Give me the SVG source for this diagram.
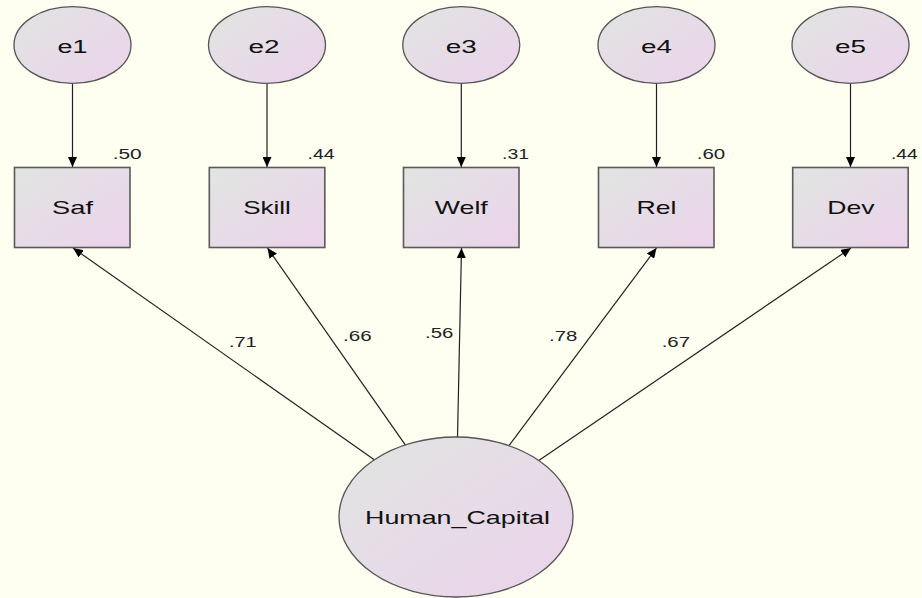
<svg xmlns="http://www.w3.org/2000/svg" width="922" height="598" viewBox="0 0 922 598">
<defs>
<linearGradient id="g" x1="0" y1="0" x2="1" y2="1">
<stop offset="0" stop-color="#e1e5e1"/>
<stop offset="1" stop-color="#ecd3ec"/>
</linearGradient>
<marker id="ah" viewBox="0 0 10 9" refX="10" refY="4.5" markerWidth="10" markerHeight="9" markerUnits="userSpaceOnUse" orient="auto">
<path d="M0,0 L10,4.5 L0,9 z" fill="#000"/>
</marker>
<style>
.ell{fill:url(#g);stroke:#555;stroke-width:1.3}
.box{fill:url(#g);stroke:#5a5a5a;stroke-width:1.6}
.lbl{font-family:"Liberation Sans",Arial,sans-serif;font-size:19px;fill:#111;text-anchor:middle}
.el{font-family:"Liberation Sans",Arial,sans-serif;font-size:18px;fill:#111;text-anchor:middle}
.num{font-family:"Liberation Sans",Arial,sans-serif;font-size:15px;fill:#222}
.con{stroke:#222;stroke-width:1.2;fill:none;marker-end:url(#ah)}
</style>
</defs>
<rect width="922" height="598" fill="#fefef1"/>
<g id="connectors">
<line class="con" x1="72.5" y1="83.5" x2="72.5" y2="167"/>
<line class="con" x1="267" y1="83.5" x2="267" y2="167"/>
<line class="con" x1="461.3" y1="83.5" x2="461.3" y2="167"/>
<line class="con" x1="656.5" y1="83.5" x2="656.5" y2="167"/>
<line class="con" x1="850.5" y1="83.5" x2="850.5" y2="167"/>
<line class="con" x1="374.3" y1="459.8" x2="73" y2="248"/>
<line class="con" x1="405.3" y1="444.9" x2="267.5" y2="248"/>
<line class="con" x1="457.5" y1="437" x2="461.5" y2="248"/>
<line class="con" x1="509" y1="445.7" x2="656.5" y2="248"/>
<line class="con" x1="538.8" y1="460.5" x2="851" y2="248"/>
<text class="num" x="229" y="346.7" textLength="27.7" lengthAdjust="spacingAndGlyphs">.71</text>
<text class="num" x="343" y="340.7" textLength="28.7" lengthAdjust="spacingAndGlyphs">.66</text>
<text class="num" x="425" y="338.3" textLength="28.3" lengthAdjust="spacingAndGlyphs">.56</text>
<text class="num" x="549" y="340.7" textLength="28.3" lengthAdjust="spacingAndGlyphs">.78</text>
<text class="num" x="661.7" y="347.3" textLength="28.3" lengthAdjust="spacingAndGlyphs">.67</text>
</g>
<g id="e1"><ellipse class="ell" cx="72.5" cy="45" rx="58.5" ry="38.3"/><text class="el" x="72.5" y="53" textLength="30" lengthAdjust="spacingAndGlyphs">e1</text></g>
<g id="e2"><ellipse class="ell" cx="267" cy="45" rx="58.5" ry="38.3"/><text class="el" x="264" y="53" textLength="31" lengthAdjust="spacingAndGlyphs">e2</text></g>
<g id="e3"><ellipse class="ell" cx="461.3" cy="45" rx="58.5" ry="38.3"/><text class="el" x="461.3" y="53" textLength="31" lengthAdjust="spacingAndGlyphs">e3</text></g>
<g id="e4"><ellipse class="ell" cx="656.5" cy="45" rx="58.5" ry="38.3"/><text class="el" x="656.5" y="53" textLength="31" lengthAdjust="spacingAndGlyphs">e4</text></g>
<g id="e5"><ellipse class="ell" cx="850.5" cy="45" rx="58.5" ry="38.3"/><text class="el" x="850.5" y="53" textLength="31" lengthAdjust="spacingAndGlyphs">e5</text></g>
<g id="Saf"><rect class="box" x="14.5" y="167.5" width="115.5" height="80"/><text class="lbl" x="72.5" y="214" textLength="41" lengthAdjust="spacingAndGlyphs">Saf</text><text class="num" x="112.7" y="159.3" textLength="29" lengthAdjust="spacingAndGlyphs">.50</text></g>
<g id="Skill"><rect class="box" x="209.3" y="167.5" width="115.5" height="80"/><text class="lbl" x="267" y="214" textLength="47.7" lengthAdjust="spacingAndGlyphs">Skill</text><text class="num" x="307.5" y="159.3" textLength="27" lengthAdjust="spacingAndGlyphs">.44</text></g>
<g id="Welf"><rect class="box" x="403.5" y="167.5" width="115.5" height="80"/><text class="lbl" x="461.3" y="214" textLength="53" lengthAdjust="spacingAndGlyphs">Welf</text><text class="num" x="502" y="159.3" textLength="27" lengthAdjust="spacingAndGlyphs">.31</text></g>
<g id="Rel"><rect class="box" x="598.5" y="167.5" width="115.5" height="80"/><text class="lbl" x="656.5" y="214" textLength="40" lengthAdjust="spacingAndGlyphs">Rel</text><text class="num" x="696.7" y="159.3" textLength="28.5" lengthAdjust="spacingAndGlyphs">.60</text></g>
<g id="Dev"><rect class="box" x="792.7" y="167.5" width="115.5" height="80"/><text class="lbl" x="851" y="213.5" textLength="47.3" lengthAdjust="spacingAndGlyphs">Dev</text><text class="num" x="891" y="158.5" textLength="26.7" lengthAdjust="spacingAndGlyphs">.44</text></g>
<g id="Human_Capital"><ellipse class="ell" cx="456" cy="517" rx="117" ry="80"/><text class="lbl" x="457.5" y="524.3" textLength="185" lengthAdjust="spacingAndGlyphs">Human_Capital</text></g>
</svg>
